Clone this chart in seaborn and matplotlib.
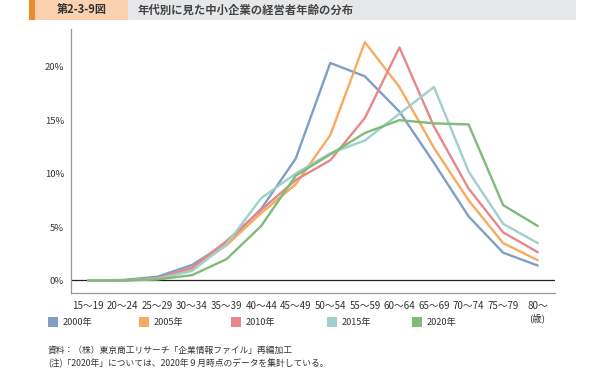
import matplotlib
matplotlib.use("Agg")
import matplotlib.pyplot as plt
import matplotlib.patches as mpatches
from matplotlib.ticker import FixedLocator
import seaborn as sns
import pandas as pd

categories = ["15～19", "20～24", "25～29", "30～34", "35～39", "40～44", "45～49",
              "50～54", "55～59", "60～64", "65～69", "70～74", "75～79", "80～"]
years = ["2000年", "2005年", "2010年", "2015年", "2020年"]
v2000 = [0.0, 0.05, 0.35, 1.45, 3.5, 6.7, 11.4, 20.35, 19.1, 15.8, 11.0, 6.0, 2.6, 1.4]
v2005 = [0.0, 0.0, 0.2, 1.1, 3.3, 6.3, 9.0, 13.6, 22.3, 18.1, 12.4, 7.5, 3.5, 1.9]
v2010 = [0.0, 0.0, 0.2, 1.2, 3.7, 6.6, 9.4, 11.25, 15.2, 21.8, 14.4, 8.6, 4.5, 2.65]
v2015 = [0.0, 0.0, 0.15, 0.9, 3.4, 7.7, 10.0, 11.9, 13.1, 15.6, 18.1, 10.2, 5.3, 3.5]
v2020 = [0.0, 0.0, 0.1, 0.5, 2.0, 5.1, 9.8, 11.8, 13.8, 15.0, 14.7, 14.6, 7.05, 5.1]
yticks = [0, 5, 10, 15, 20]
colors = ["#7f9fc6", "#f6ab5f", "#e8878a", "#9fd0ca", "#80bb79"]

series = [v2000, v2005, v2010, v2015, v2020]
rows = []
for y, vals in zip(years, series):
    for c, v in zip(categories, vals):
        rows.append({"age": c, "year": y, "value": v})
df = pd.DataFrame(rows)

sns.set_style("white")
plt.rcParams["font.family"] = ["Noto Sans CJK JP", "DejaVu Sans"]

fig = plt.figure(figsize=(6.07, 3.77), dpi=100)
ax = fig.add_axes([71/607, 1-293/377, (555-71)/607, (293-29.3)/377])

sns.lineplot(data=df, x="age", y="value", hue="year", hue_order=years,
             palette=colors, linewidth=1.7, ax=ax, legend=False, sort=False)

ax.set_xlim(-0.5, len(categories) - 0.5)
ax.set_ylim(-1.17, 23.5)
ax.axhline(0, color="#222222", linewidth=0.9, zorder=1)

ax.set_yticks(yticks)
ax.set_yticklabels([f"{t}%" for t in yticks], fontsize=6.8, color="#333333")
ax.set_xticks(range(len(categories)))
ax.set_xticklabels(categories, fontsize=7, color="#333333")
ax.xaxis.set_minor_locator(FixedLocator([i - 0.5 for i in range(len(categories) + 1)]))
ax.tick_params(axis="x", which="major", length=0, pad=6)
ax.tick_params(axis="x", which="minor", length=4, direction="inout", color="#666666", width=0.8)
ax.tick_params(axis="y", which="major", length=3, color="#666666", width=0.8, pad=2)
ax.set_xlabel("")
ax.set_ylabel("")
for s in ["top", "right"]:
    ax.spines[s].set_visible(False)
ax.spines["left"].set_color("#999999")
ax.spines["bottom"].set_color("#999999")
ax.spines["left"].set_linewidth(0.9)
ax.spines["bottom"].set_linewidth(0.9)

# unit label
fig.text(537/607, 1-318/377, "(歳)", fontsize=6.8, color="#333333", ha="center", va="center")

# legend
leg_x = [48, 139, 231, 327, 412]
for x, y, c in zip(leg_x, years, colors):
    fig.patches.append(mpatches.Rectangle((x/607, 1-327/377), 10/607, 10/377,
                                          transform=fig.transFigure, facecolor=c,
                                          edgecolor="none"))
    fig.text((x+15)/607, 1-322/377, y, fontsize=6.6, color="#333333", va="center")

# title bar
fig.patches.append(mpatches.Rectangle((35/607, 1-20/377), (576-35)/607, 20/377,
                                      transform=fig.transFigure, facecolor="#e6e7e9", edgecolor="none"))
fig.patches.append(mpatches.Rectangle((35/607, 1-20/377), (128-35)/607, 20/377,
                                      transform=fig.transFigure, facecolor="#fbd2b0", edgecolor="none"))
fig.patches.append(mpatches.Rectangle((29/607, 1-20/377), 6/607, 20/377,
                                      transform=fig.transFigure, facecolor="#f08a2c", edgecolor="none"))
fig.text(82/607, 1-10/377, "第2-3-9図", fontsize=8, fontweight="bold", color="#333333",
         ha="center", va="center")
fig.text(138/607, 1-10/377, "年代別に見た中小企業の経営者年齢の分布", fontsize=8.2,
         fontweight="bold", color="#444444", ha="left", va="center")

# footer
fig.text(48/607, 1-350/377, "資料：（株）東京商工リサーチ「企業情報ファイル」再編加工",
         fontsize=6.3, color="#333333", va="center")
fig.text(48/607, 1-363/377, "(注)「2020年」については、2020年９月時点のデータを集計している。",
         fontsize=6.3, color="#333333", va="center")

fig.savefig("out.png", dpi=100)
